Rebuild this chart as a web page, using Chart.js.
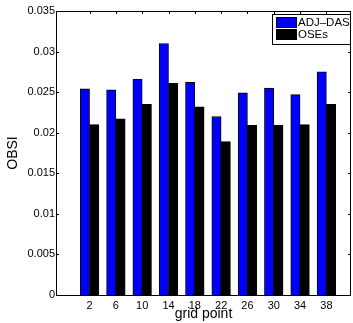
<!DOCTYPE html>
<html>
<head>
<meta charset="utf-8">
<script src="https://cdn.jsdelivr.net/npm/chart.js@4/dist/chart.umd.min.js"></script>
<style>
  html, body { margin: 0; padding: 0; background: #fff; }
  #wrap { width: 353px; height: 323px; }
</style>
</head>
<body>
<div id="wrap"><canvas id="chart" width="353" height="323"></canvas></div>
<script>
const gridPoints = [2, 6, 10, 14, 18, 22, 26, 30, 34, 38];
const adjDas = [0.0254, 0.0253, 0.0266, 0.0310, 0.0262, 0.0220, 0.0249, 0.0255, 0.0247, 0.0275];
const oses = [0.0210, 0.0217, 0.0235, 0.0261, 0.0232, 0.0189, 0.0209, 0.0209, 0.0210, 0.0235];
const yTicks = [0, 0.005, 0.01, 0.015, 0.02, 0.025, 0.03, 0.035];

const FONT = '"Liberation Sans", Arial, Helvetica, sans-serif';

// box, inner ticks and legend drawn the MATLAB way
const matlabFrame = {
  id: 'matlabFrame',
  afterDatasetsDraw(chart) {
    const { ctx, chartArea: a, scales } = chart;
    ctx.save();
    ctx.strokeStyle = '#000';
    ctx.lineWidth = 1;
    ctx.strokeRect(a.left + 0.5, a.top + 0.5, a.right - a.left - 1, a.bottom - a.top);

    ctx.beginPath();
    gridPoints.forEach(v => {
      const x = Math.round(scales.x.getPixelForValue(v)) + 0.5;
      ctx.moveTo(x, a.top); ctx.lineTo(x, a.top + 3);
      ctx.moveTo(x, a.bottom); ctx.lineTo(x, a.bottom - 3);
    });
    yTicks.forEach(v => {
      const y = Math.round(scales.y.getPixelForValue(v)) + 0.5;
      ctx.moveTo(a.left, y); ctx.lineTo(a.left + 3, y);
      ctx.moveTo(a.right, y); ctx.lineTo(a.right - 3, y);
    });
    ctx.stroke();

    // legend
    const lx = a.right - 79, ly = a.top + 3, lw = 78, lh = 30;
    ctx.fillStyle = '#fff';
    ctx.fillRect(lx, ly, lw, lh);
    ctx.strokeRect(lx + 0.5, ly + 0.5, lw, lh);
    ctx.font = '11.5px ' + FONT;
    ctx.textBaseline = 'middle';
    chart.data.datasets.forEach((ds, i) => {
      const sy = ly + 3 + i * 12;
      ctx.fillStyle = ds.backgroundColor;
      ctx.fillRect(lx + 4, sy, 21, 11);
      ctx.strokeStyle = '#000';
      ctx.strokeRect(lx + 4.5, sy + 0.5, 20, 10);
      ctx.fillStyle = '#000';
      ctx.fillText(ds.label, lx + 26, sy + 6);
    });
    ctx.restore();
  }
};

new Chart(document.getElementById('chart'), {
  type: 'bar',
  data: {
    labels: gridPoints,
    datasets: [
      { label: 'ADJ\u2013DAS', data: adjDas, backgroundColor: '#0000ff', borderColor: '#000', borderWidth: 1 },
      { label: 'OSEs', data: oses, backgroundColor: '#000000', borderColor: '#000', borderWidth: 1 }
    ]
  },
  options: {
    responsive: false,
    animation: false,
    layout: { padding: { top: 11, right: 2, left: 0, bottom: 0 } },
    plugins: { legend: { display: false }, tooltip: { enabled: false } },
    datasets: { bar: { barThickness: 9.3 } },
    scales: {
      x: {
        type: 'linear',
        min: -0.86,
        max: 39.5,
        afterBuildTicks: s => { s.ticks = gridPoints.map(v => ({ value: v })); },
        afterFit: s => { s.height = 28; },
        grid: { display: false, drawTicks: false },
        border: { display: false },
        ticks: { color: '#000', font: { family: FONT, size: 11 }, padding: 4, maxRotation: 0 },
        title: { display: true, text: 'grid point', color: '#000', font: { family: FONT, size: 14 }, padding: { top: 0, bottom: 0 } }
      },
      y: {
        min: 0,
        max: 0.035,
        afterBuildTicks: s => { s.ticks = yTicks.map(v => ({ value: v })); },
        afterFit: s => { s.width = 56; },
        grid: { display: false, drawTicks: false },
        border: { display: false },
        ticks: {
          color: '#000', font: { family: FONT, size: 11 }, padding: 1,
          callback: v => String(parseFloat(v.toFixed(3)))
        },
        title: { display: true, text: 'OBSI', color: '#000', font: { family: FONT, size: 14 }, padding: { top: 5, bottom: 0 } }
      }
    }
  },
  plugins: [matlabFrame]
});
</script>
</body>
</html>
